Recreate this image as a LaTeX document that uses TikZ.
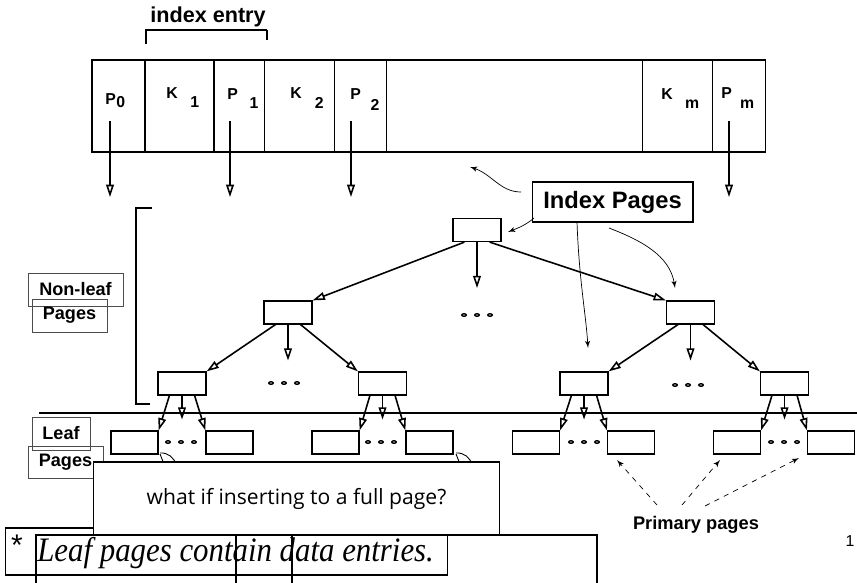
\documentclass[tikz,border=0pt]{standalone}
\usepackage{fontspec}
\setmainfont{Liberation Sans}
\newfontfamily\leafserif{Liberation Serif}
\newfontfamily\askfont{Open Sans}
\usepackage{tikz}
\usetikzlibrary{arrows}
\usetikzlibrary{arrows.meta}
\usetikzlibrary{positioning}
\tikzstyle{note} = [draw, line width=0.4pt, -latex']
\newcommand{\cellab}[4]{#1\hspace{#3}\raisebox{-#4}{#2}}

\begin{document}
\begin{tikzpicture}[x=0.02cm, y=-0.02cm,
	cell/.style={draw, line width=0.6pt, minimum height=1.84cm, inner sep=0pt, outer sep=0pt},
	lab/.style={inner sep=0pt, font=\bfseries\fontsize{9}{10}\selectfont},
	page/.style={draw, line width=0.7pt, minimum width=0.96cm, minimum height=0.46cm, inner sep=0pt},
	leaf/.style={page, minimum width=0.94cm},
	tree/.style={line width=0.9pt, -{Triangle[open, length=7pt, width=4.4pt]}},
	tag/.style={draw=black!70, line width=0.5pt, inner sep=0pt, font=\bfseries\fontsize{10.3}{12}\selectfont}]
	\useasboundingbox (0,0) rectangle (857,582);

	% the index page
	\node[cell, minimum width=1.06cm, anchor=west] (cP0) at (92,106) {};
	\node[cell, minimum width=1.38cm, right=0pt of cP0] (cK1) {};
	\node[cell, minimum width=1.02cm, right=0pt of cK1] (cP1) {};
	\node[cell, minimum width=1.40cm, right=0pt of cP1] (cK2) {};
	\node[cell, minimum width=1.04cm, right=0pt of cK2] (cP2) {};
	\node[cell, minimum width=5.12cm, right=0pt of cP2] (cgap) {};
	\node[cell, minimum width=1.40cm, right=0pt of cgap] (cKm) {};
	\node[cell, minimum width=1.06cm, right=0pt of cKm] (cPm) {};

	\node[lab, anchor=base west] (lP0) at (105,104) {\cellab{P}{0}{0.2pt}{2.2pt}};
	\node[lab, anchor=base west] (lK1) at (166,98) {\cellab{K}{1}{7.2pt}{5.4pt}};
	\node[lab, anchor=base west] (lP1) at (227,99) {\cellab{P}{1}{6.7pt}{5.4pt}};
	\node[lab, anchor=base west] (lK2) at (290,98) {\cellab{K}{2}{7.4pt}{5.9pt}};
	\node[lab, anchor=base west] (lP2) at (350,99) {\cellab{P}{2}{5.6pt}{6.8pt}};
	\node[lab, anchor=base west] (lKm) at (661,99) {\cellab{K}{m}{7pt}{5.4pt}};
	\node[lab, anchor=base west] (lPm) at (721,98) {\cellab{P}{m}{4.7pt}{5.7pt}};

	\foreach \c/\x in {P0/110, P1/230, P2/351, Pm/729} {
		\coordinate (a\c) at (\x,121);
		\coordinate (b\c) at (\x,197);
		\draw[tree] (a\c) -- (b\c);
	}

	\node[font=\bfseries\fontsize{12.3}{14}\selectfont] (ientry) at (208,17) {index entry};
	\draw[line width=1.2pt] (146,44) -- (146,30) -- (267,30);
	\draw[line width=0.7pt] (267,30) -- (267,40);

	% the tree
	\node[page] (root) at (477,230) {};
	\node[page] (n2l) at (288,312.5) {};
	\node[page] (n2r) at (690.5,312.5) {};
	\foreach \n/\x in {n3a/182, n3b/382.5, n3c/584, n3d/784.5}
		\node[page] (\n) at (\x,383.5) {};
	\foreach \n/\x in {la1/134.5, la2/229.5, lb1/335.5, lb2/429.5, lc1/536, lc2/631, ld1/737, ld2/831}
		\node[leaf] (\n) at (\x,442.5) {};

	\foreach \p/\l/\r in {root/n2l/n2r, n2l/n3a/n3b, n2r/n3c/n3d, n3a/la1/la2, n3b/lb1/lb2, n3c/lc1/lc2, n3d/ld1/ld2} {
		\draw[tree] ([xshift=0.24cm]\p.south west) -- (\l.north east);
		\draw[tree] ([xshift=-0.24cm]\p.south east) -- (\r.north west);
	}
	\foreach \p/\d in {root/-0.92cm, n2l/-0.72cm, n2r/-0.72cm, n3a/-0.48cm, n3b/-0.48cm, n3c/-0.48cm, n3d/-0.48cm} {
		\coordinate (\p-stub) at ([yshift=\d]\p.south);
		\draw[tree] (\p.south) -- (\p-stub);
	}

	\foreach \x/\y in {477/315, 284/383, 688/385, 181/442, 381/442, 584/442, 784/442}
		\foreach \d in {-13,0,13}
			\draw[line width=0.8pt] (\x+\d,\y) ellipse (0.045cm and 0.025cm);

	\draw[line width=1.1pt] (39,413) -- (857,413);
	\draw[line width=1.1pt] (152,208) -- (136,208) -- (136,404) -- (150,404);

	% labels on the left
	\node[tag, minimum width=1.9cm, minimum height=0.66cm] (nonleaf) at (75.5,289.5) {Non-leaf};
	\node[tag, minimum width=1.5cm, minimum height=0.66cm] (nlpages) at (69.5,315.5) {Pages};
	\node[tag, minimum width=1.16cm, minimum height=0.66cm] (leaftag) at (61,433.5) {Leaf};
	\node[tag, minimum width=1.5cm, minimum height=0.64cm] (lfpages) at (65.5,462) {Pages};

	% index pages
	\node[draw, line width=0.6pt, minimum width=3.22cm, minimum height=0.8cm, inner sep=0pt,
		font=\bfseries\fontsize{13.5}{16}\selectfont] (ip) at (612.5,202) {Index Pages};
	\coordinate (ip1s) at (521,192);
	\coordinate (ip1e) at (470,167);
	\coordinate (ip2s) at (534,218);
	\coordinate (ip2e) at (508,232);
	\coordinate (ip3s) at (577,222);
	\coordinate (ip3e) at (588,348);
	\coordinate (ip4s) at (609,228);
	\coordinate (ip4e) at (675,288);
	\draw[note] (ip1s) .. controls (500,192) and (492,174) .. (ip1e);
	\draw[note] (ip2s) .. controls (526,225) and (518,228) .. (ip2e);
	\draw[note] (ip3s) .. controls (579,280) and (586,315) .. (ip3e);
	\draw[note] (ip4s) .. controls (640,240) and (670,255) .. (ip4e);

	% primary pages
	\node[font=\bfseries\fontsize{10.4}{12}\selectfont] (pp) at (696,525) {Primary pages};
	\coordinate (pp1s) at (657,505);
	\coordinate (pp1e) at (617,460);
	\coordinate (pp2s) at (682,505);
	\coordinate (pp2e) at (720,460);
	\coordinate (pp3s) at (705,506);
	\coordinate (pp3e) at (799,458);
	\draw[note, dashed] (pp1s) -- (pp1e);
	\draw[note, dashed] (pp2s) -- (pp2e);
	\draw[note, dashed] (pp3s) -- (pp3e);

	% overflow curls, partly hidden
	\draw[line width=0.5pt] (160,453) arc[start angle=95, end angle=10, radius=0.3cm];
	\draw[line width=0.5pt] (160,454) -- (164,464);
	\draw[line width=0.5pt] (456,453) arc[start angle=95, end angle=10, radius=0.3cm];
	\draw[line width=0.5pt] (456,454) -- (460,464);

	% notes at the bottom
	\node[draw, line width=0.6pt, minimum width=8.86cm, minimum height=0.94cm, inner sep=0pt] (notebox) at (226.5,551.5) {};
	\node[draw, line width=0.6pt, fill=white, minimum width=8.14cm, minimum height=1.46cm, inner sep=0pt,
		font=\askfont\fontsize{12}{14}\selectfont] (ask) at (296.5,498.5) {what if inserting to a full page?};
	\draw[line width=0.6pt] (36,600) -- (36,535) -- (236,535) -- (236,600);
	\draw[line width=0.6pt] (292,600) -- (292,535) -- (597,535) -- (597,600);
	\node[font=\fontsize{17}{20}\selectfont] (star) at (17,545) {*};
	\node[anchor=base west, inner sep=0pt, font=\leafserif\itshape\fontsize{19.5}{22}\selectfont] (leafnote) at (37,561)
		{\scalebox{0.9}[1]{Leaf pages contain data entries.}};

	\node[font=\fontsize{9}{11}\selectfont] (pgno) at (850,541) {1};
\end{tikzpicture}
\end{document}
